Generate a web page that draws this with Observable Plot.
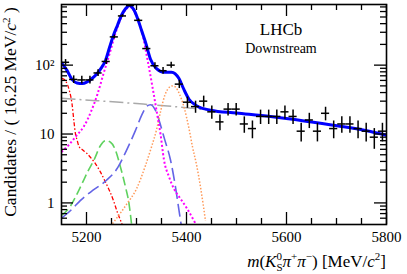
<!DOCTYPE html>
<html><head><meta charset="utf-8">
<script src="https://cdn.jsdelivr.net/npm/d3@7"></script>
<script src="https://cdn.jsdelivr.net/npm/@observablehq/plot@0.6"></script>
<style>
body{margin:0;background:#fff}
#chart svg{font-family:'Liberation Serif','Times New Roman',serif;display:block}
#chart svg text{font-family:'Liberation Serif','Times New Roman',serif}
</style>
</head><body><div id="chart"></div>
<script>
// ---- data ----
const binLow = 5150, binWidth = 16.25;
const counts = [110, 62, 61, 61, 77, 113, 257, 518, 733, 447, 174, 98, 83, 100, 53, 29, 25, 30, 21, 15,
                23, 23, 14, 12, 18, 18, 18, 21, 18, 11, 16, 11, 20, 12, 14, 14, 12, 11, 9, 11];

const totalMass = [5150, 5161, 5171, 5181, 5192, 5201, 5211, 5221, 5230, 5238, 5246, 5255, 5262, 5270, 5278, 5286, 5294, 5302, 5310, 5318, 5328, 5340, 5355, 5370, 5385, 5395, 5405, 5421, 5448, 5500, 5568, 5635, 5701, 5768, 5800];
const totalVal  = [108, 84, 62, 55, 54, 57, 64, 75, 92, 117, 180, 285, 380, 530, 660, 735, 650, 480, 320, 215, 122, 89, 79, 79, 64, 44, 32, 25.5, 22.2, 20.2, 17.9, 15.5, 13.2, 10.9, 9.6];

const combMass = [5150, 5220, 5290, 5395, 5450, 5570, 5700, 5800];
const combVal  = [33, 30.5, 28, 24.3, 22, 17.8, 13.2, 9.6];

const sigMass = [5150, 5165, 5180, 5195, 5210, 5222, 5234, 5246, 5258, 5270, 5280, 5286, 5292, 5302, 5312, 5322, 5332, 5341, 5348, 5355, 5365, 5375, 5388, 5401, 5418];
const sigVal  = [5.5, 7, 9.5, 13, 22, 38, 75, 145, 290, 500, 660, 700, 660, 470, 280, 120, 48, 20, 10, 4.2, 2.4, 1.6, 1.15, 0.83, 0.5];

const redMass = [5150, 5156, 5161, 5166, 5171, 5175, 5178, 5181, 5185, 5192, 5201, 5210, 5218, 5228, 5238, 5247, 5255, 5262, 5268, 5272];
const redVal  = [64, 62, 54, 42, 27.5, 15, 10, 8.3, 6.6, 5.9, 5.2, 4.4, 3.7, 2.8, 2.0, 1.45, 1.03, 0.72, 0.56, 0.47];

const greenMass = [5150, 5168, 5180, 5191, 5203, 5215, 5228, 5238, 5248, 5258, 5268, 5278, 5285, 5290];
const greenVal  = [0.66, 0.9, 1.3, 1.9, 2.9, 4.2, 6.8, 8.0, 7.6, 5.8, 3.3, 1.7, 0.98, 0.5];

const bsMass = [5150, 5170, 5188, 5213, 5240, 5263, 5280, 5298, 5310, 5320, 5328, 5338, 5348, 5356, 5368, 5378, 5385, 5390];
const bsVal  = [0.6, 0.8, 1.09, 1.53, 2.13, 3.3, 5.8, 11.3, 18.5, 25, 26.6, 22, 13.5, 8.5, 4.2, 1.7, 0.78, 0.45];

const orMass = [5252, 5280, 5300, 5318, 5330, 5340, 5348, 5357, 5366, 5372, 5378, 5386, 5395, 5405, 5412, 5420, 5428, 5438];
const orVal  = [0.5, 0.95, 1.6, 3.5, 6.5, 11.5, 21, 37, 48, 50, 48, 38, 24.6, 12, 6.5, 3.6, 1.7, 0.55];

const xMajor = [5200, 5400, 5600, 5800];
const xMinor = [5250, 5300, 5350, 5450, 5500, 5550, 5650, 5700, 5750];
const yMajor = [1, 10, 100];
const yMajorLabels = ["1", "10", "10²"];
const yMinor = [0.6, 0.7, 0.8, 0.9, 2, 3, 4, 5, 6, 7, 8, 9, 20, 30, 40, 50, 60, 70, 80, 90, 200, 300, 400, 500, 600, 700];

// ---- build tables ----
const pts = counts.map((n, i) => {
  const m = binLow + binWidth * (i + 0.5);
  const e = Math.sqrt(n);
  return {m, n, lo: n - e, hi: n + e, x1: m - binWidth / 2, x2: m + binWidth / 2};
});
const toRows = (ms, vs) => ms.map((m, i) => ({m, v: vs[i]}));

const W = 407, H = 274, mL = 61, mR = 21, mT = 4, mB = 50;
const fw = W - mL - mR, fh = H - mT - mB;

const lineOpts = (stroke, width, dash) => ({x: "m", y: "v", stroke, strokeWidth: width, strokeDasharray: dash, strokeLinecap: "butt", curve: "monotone-x", clip: true});

const plot = Plot.plot({
  width: W, height: H,
  marginLeft: mL, marginRight: mR, marginTop: mT, marginBottom: mB,
  style: {fontFamily: "'Liberation Serif', serif", fontSize: "15px", background: "white", color: "black"},
  x: {domain: [5150, 5800], axis: null},
  y: {type: "log", domain: [0.486, 759], axis: null},
  marks: [
    Plot.line(toRows(combMass, combVal), lineOpts("#a9a9a9", 1.5, "14,4,2,4")),
    Plot.line(toRows(redMass, redVal), lineOpts("#ff0000", 1.3, "4,2,1.5,2")),
    Plot.line(toRows(greenMass, greenVal), lineOpts("#5fd25f", 1.6, "9,4")),
    Plot.line(toRows(bsMass, bsVal), lineOpts("#6464e6", 1.6, "13,5")),
    Plot.line(toRows(orMass, orVal), lineOpts("#ff9a5a", 1.5, "1.5,1.8")),
    Plot.line(toRows(sigMass, sigVal), lineOpts("#ff00ff", 2, "2,2.2")),
    Plot.line(toRows(totalMass, totalVal), {...lineOpts("#0000ff", 3, null), strokeLinecap: "round"}),
    Plot.ruleX(pts, {x: "m", y1: "lo", y2: "hi", stroke: "black", strokeWidth: 1.5, clip: true}),
    Plot.ruleY(pts, {y: "n", x1: "x1", x2: "x2", stroke: "black", strokeWidth: 1.5, clip: true}),
    // inward ticks, bottom and top
    Plot.tickX(xMajor, {x: d => d, insetTop: fh - 12, stroke: "black", strokeWidth: 1.3}),
    Plot.tickX(xMinor, {x: d => d, insetTop: fh - 6, stroke: "black", strokeWidth: 1.3}),
    Plot.tickX(xMajor, {x: d => d, insetBottom: fh - 12, stroke: "black", strokeWidth: 1.3}),
    Plot.tickX(xMinor, {x: d => d, insetBottom: fh - 6, stroke: "black", strokeWidth: 1.3}),
    // inward ticks, left and right
    Plot.tickY(yMajor, {y: d => d, insetRight: fw - 12, stroke: "black", strokeWidth: 1.3}),
    Plot.tickY(yMinor, {y: d => d, insetRight: fw - 6, stroke: "black", strokeWidth: 1.3}),
    Plot.tickY(yMajor, {y: d => d, insetLeft: fw - 12, stroke: "black", strokeWidth: 1.3}),
    Plot.tickY(yMinor, {y: d => d, insetLeft: fw - 6, stroke: "black", strokeWidth: 1.3}),
    // tick labels
    Plot.text(xMajor, {x: d => d, frameAnchor: "bottom", lineAnchor: "top", dy: 7, text: d => String(d), fontSize: 15, fill: "black"}),
    Plot.text(yMajor, {y: d => d, frameAnchor: "left", textAnchor: "end", dx: -7, text: (d, i) => yMajorLabels[i], fontSize: 15, fill: "black"}),
    Plot.frame({stroke: "black", strokeWidth: 1.6})
  ]
});

document.getElementById("chart").appendChild(plot);

// ---- titles ----
const svg = d3.select(plot);
const ff = "'Liberation Serif', 'Times New Roman', serif";

// y title
const yt = svg.append("text")
  .attr("transform", `translate(15.5,${(mT + 222) / 2 - 1}) rotate(-90)`)
  .attr("text-anchor", "middle").attr("font-family", ff).attr("font-size", 17.5).attr("fill", "black");
yt.append("tspan").text("Candidates / ( 16.25 MeV/");
yt.append("tspan").attr("font-style", "italic").text("c");
yt.append("tspan").attr("font-size", 11).attr("dy", -6).text("2");
yt.append("tspan").attr("dy", 6).text(" )");

// x title
const xt = svg.append("text")
  .attr("x", W - mR).attr("y", 266.5)
  .attr("text-anchor", "end").attr("font-family", ff).attr("font-size", 17).attr("fill", "black");
xt.append("tspan").attr("font-style", "italic").text("m");
xt.append("tspan").text("(");
xt.append("tspan").attr("font-style", "italic").text("K");
xt.append("tspan").attr("font-size", 11).attr("dy", -7).text("0");
xt.append("tspan").attr("font-size", 11).attr("dx", -5.5).attr("dy", 11).text("S");
xt.append("tspan").attr("font-style", "italic").attr("dy", -4).text("π");
xt.append("tspan").attr("font-size", 11).attr("dy", -7).text("+");
xt.append("tspan").attr("font-style", "italic").attr("dy", 7).text("π");
xt.append("tspan").attr("font-size", 11).attr("dy", -7).text("−");
xt.append("tspan").attr("dy", 7).text(") [MeV/");
xt.append("tspan").attr("font-style", "italic").text("c");
xt.append("tspan").attr("font-size", 11).attr("dy", -7).text("2");
xt.append("tspan").attr("dy", 7).text("]");

// LHCb label
svg.append("text").attr("x", 281).attr("y", 35).attr("font-family", ff).attr("font-size", 17).attr("fill", "black").text("LHCb");
svg.append("text").attr("x", 281).attr("y", 53).attr("font-family", ff).attr("font-size", 14).attr("fill", "black").text("Downstream");
</script>
</body></html>
